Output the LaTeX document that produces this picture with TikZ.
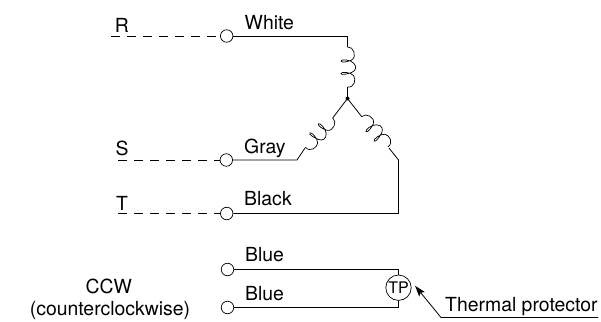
\documentclass[tikz,border=0pt]{standalone}
\usepackage{fontspec}
\setmainfont{TeX Gyre Heros}
\usetikzlibrary{arrows.meta}
\tikzset{
  wire/.style={line width=0.8pt,line join=miter},
  dashwire/.style={line width=0.8pt,dash pattern=on 8.5pt off 7.5pt},
  term/.style={circle,draw,fill=white,line width=0.7pt,inner sep=0pt,minimum size=12.5pt},
  lbl/.style={anchor=base west,inner sep=0pt,font=\fontsize{19.4}{22}\selectfont},
  clbl/.style={anchor=base,inner sep=0pt,font=\fontsize{19.4}{22}\selectfont},
  tpnode/.style={circle,draw,fill=white,line width=0.7pt,inner sep=0pt,minimum size=25.4pt,font=\fontsize{16}{18}\selectfont},
  dotnode/.style={circle,fill=black,inner sep=0pt,minimum size=4pt},
  coil/.pic={
    \draw[line width=0.7pt,x=1pt,y=1pt] (0,0)
      .. controls (-1,6) and (10,10) .. (13,4)
      .. controls (15,0) and (16,-6.5) .. (14,-6.5)
      .. controls (12,-6.5) and (12.5,3) .. (16,6)
      .. controls (20,10) and (24,8) .. (25.5,4)
      .. controls (27,0) and (28.5,-6.5) .. (26.5,-6.5)
      .. controls (24.5,-6.5) and (25,3) .. (28.5,6)
      .. controls (32,9) and (41,7) .. (40,0);
  }
}
\begin{document}
\begin{tikzpicture}[x=1pt,y=-1pt]
\useasboundingbox (0,0) rectangle (601,321);
% terminals
\node[term] (r) at (226.7,36) {};
\node[term] (s) at (226.3,160) {};
\node[term] (t) at (226.7,213.5) {};
\node[term] (b1) at (227.5,269.5) {};
\node[term] (b2) at (227.5,307.5) {};
\coordinate (r0) at (111,36);
\coordinate (s0) at (118,160);
\coordinate (t0) at (118,213.5);
\draw[dashwire] (r0) -- (r.west);
\draw[dashwire] (s0) -- (s.west);
\draw[dashwire] (t0) -- (t.west);
% star point and coils
\node[dotnode] (star) at (347.5,98.5) {};
\coordinate (c1a) at (347.5,47);
\coordinate (c1b) at (347.5,87);
\coordinate (c2a) at (332.7,118);
\coordinate (c2b) at (305,148);
\coordinate (c3a) at (361.7,116.7);
\coordinate (c3b) at (389,148);
\pic[rotate=-90] at (c1a) {coil};
\pic[rotate=-133] at (c2a) {coil};
\pic[rotate=-49] at (c3a) {coil};
\coordinate (k1) at (347.5,36);
\coordinate (k2) at (297,160);
\coordinate (k3) at (398.5,160);
\coordinate (k4) at (398.5,213.5);
\draw[wire] (r.east) -- (k1) -- (c1a);
\draw[wire] (c1b) -- (star.center);
\draw[wire] (star.center) -- (c2a);
\draw[wire] (star.center) -- (c3a);
\draw[wire] (s.east) -- (k2) -- (c2b);
\draw[wire] (c3b) -- (k3) -- (k4) -- (t.east);
% thermal protector
\node[tpnode] (tp) at (398.5,287.7) {TP};
\coordinate (k5) at (398.5,269.5);
\coordinate (k6) at (398.5,307.5);
\draw[wire] (b1.east) -- (k5) -- (tp.north);
\draw[wire] (b2.east) -- (k6) -- (tp.south);
\coordinate (a0) at (598,317.5);
\coordinate (a1) at (441,317.5);
\coordinate (a2) at (415,285.7);
\draw[wire,-{Stealth[length=11pt,width=7pt,inset=2pt]}] (a0) -- (a1) -- (a2);
% labels
\node[clbl] (lr) at (122,33) {R};
\node[clbl] (ls) at (122,155.5) {S};
\node[clbl] (lt) at (122,210) {T};
\node[lbl] (l1) at (244.5,29.5) {White};
\node[lbl] (l2) at (244,153) {Gray};
\node[lbl] (l3) at (244,205.5) {Black};
\node[lbl] (l4) at (245,261.5) {Blue};
\node[lbl] (l5) at (245,300) {Blue};
\node[clbl] (l6) at (108.7,293) {CCW};
\node[clbl] (l7) at (110,315) {(counterclockwise)};
\node[lbl] (l8) at (445,311.7) {Thermal protector};
\end{tikzpicture}
\end{document}
